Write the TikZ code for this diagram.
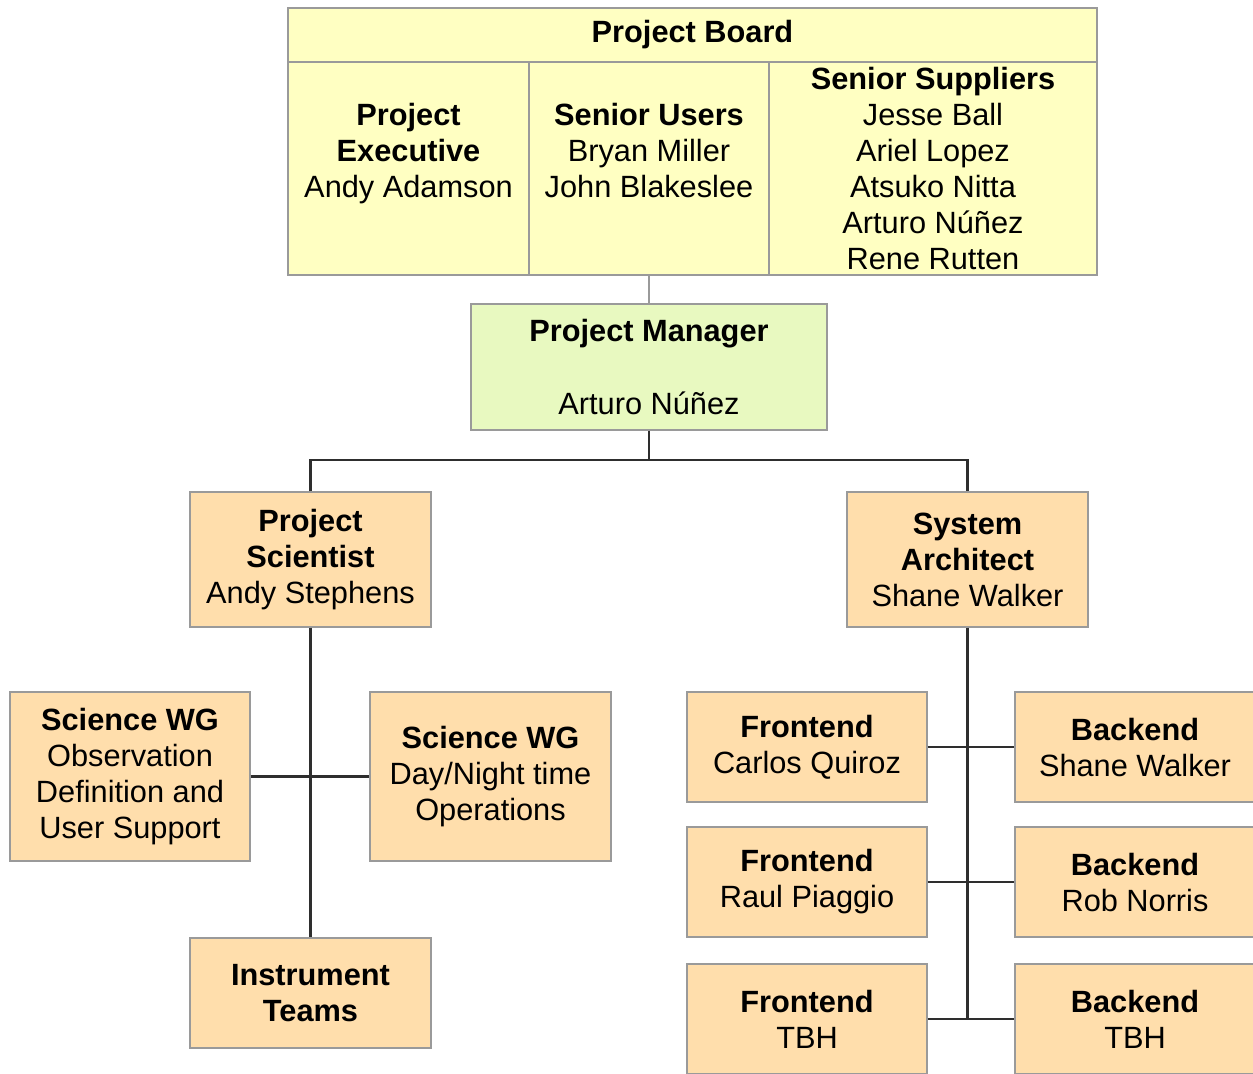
\documentclass[tikz,border=0pt]{standalone}
\usepackage{fontspec}
\setmainfont{Liberation Sans}
\usepackage{xcolor}
\usepackage{tikz}

\definecolor{boardfill}{HTML}{FFFFC2}
\definecolor{pmfill}{HTML}{E8F9C0}
\definecolor{teamfill}{HTML}{FFDEAC}
\definecolor{boxline}{HTML}{9A9A9A}
\definecolor{linkline}{HTML}{2E2E2E}

\begin{document}
\begin{tikzpicture}[
  x=0.02cm, y=-0.02cm,
  unit/.style={draw=boxline, line width=0.8pt, fill=#1, align=center, inner sep=0pt,
               font=\fontsize{17.5}{20.5}\selectfont},
  board/.style={unit=boardfill, minimum height=4.26cm},
  team/.style={unit=teamfill, minimum width=4.82cm, minimum height=2.2cm},
  link/.style={draw=linkline, line width=1.4pt},
  thin link/.style={draw=boxline, line width=0.9pt}
]
  \useasboundingbox (0,0) rectangle (1253,1073);

  % project board
  \node[unit=boardfill, minimum width=16.18cm, minimum height=1.08cm] (head) at (692.5,35) {\textbf{Project Board}};
  \node[board, minimum width=4.82cm] (exec) at (408.5,168.5) {\textbf{Project}\\\textbf{Executive}\\Andy Adamson\\~};
  \node[board, minimum width=4.8cm] (users) at (649,168.5) {\textbf{Senior Users}\\Bryan Miller\\John Blakeslee\\~};
  \node[board, minimum width=6.56cm] (suppliers) at (933,168.5) {\textbf{Senior Suppliers}\\Jesse Ball\\Ariel Lopez\\Atsuko Nitta\\Arturo Núñez\\Rene Rutten};

  \node[unit=pmfill, minimum width=7.12cm, minimum height=2.52cm] (pm) at (649,367) {\textbf{Project Manager}\\[20.5pt]Arturo Núñez};

  \node[team, minimum height=2.7cm] (ps) at (310.5,559.5) {\textbf{Project}\\\textbf{Scientist}\\Andy Stephens};
  \node[team, minimum height=2.7cm] (sa) at (967.5,559.5) {\textbf{System}\\\textbf{Architect}\\Shane Walker};

  % science side
  \node[team, minimum width=4.8cm, minimum height=3.38cm] (swgobs) at (130,776.5) {\textbf{Science WG}\\Observation\\Definition and\\User Support};
  \node[team, minimum height=3.38cm] (swgops) at (490.5,776.5) {\textbf{Science WG}\\Day/Night time\\Operations};
  \node[team] (inst) at (310.5,993) {\textbf{Instrument}\\\textbf{Teams}};

  % engineering side
  \node[team, minimum width=4.8cm] (fe1) at (807,747) {\textbf{Frontend}\\Carlos Quiroz};
  \node[team, minimum width=4.8cm] (fe2) at (807,882) {\textbf{Frontend}\\Raul Piaggio};
  \node[team, minimum width=4.8cm] (fe3) at (807,1019) {\textbf{Frontend}\\TBH};
  \node[team, minimum width=4.8cm] (be1) at (1135,747) {\textbf{Backend}\\Shane Walker};
  \node[team, minimum width=4.8cm] (be2) at (1135,882) {\textbf{Backend}\\Rob Norris};
  \node[team, minimum width=4.8cm] (be3) at (1135,1019) {\textbf{Backend}\\TBH};

  \coordinate (bus) at (649,460);

  \draw[thin link] (users.south) -- (pm.north);
  \draw[link] (pm.south) -- (bus);
  \draw[link] (ps.north) |- (bus) -| (sa.north);

  \draw[link] (ps.south) -- (inst.north);
  \draw[link] (swgobs.east) -- (swgops.west);

  \draw[link] (sa.south) -- (sa.south |- fe3.east);
  \draw[link] (fe1.east) -- (be1.west);
  \draw[link] (fe2.east) -- (be2.west);
  \draw[link] (fe3.east) -- (be3.west);
\end{tikzpicture}
\end{document}
